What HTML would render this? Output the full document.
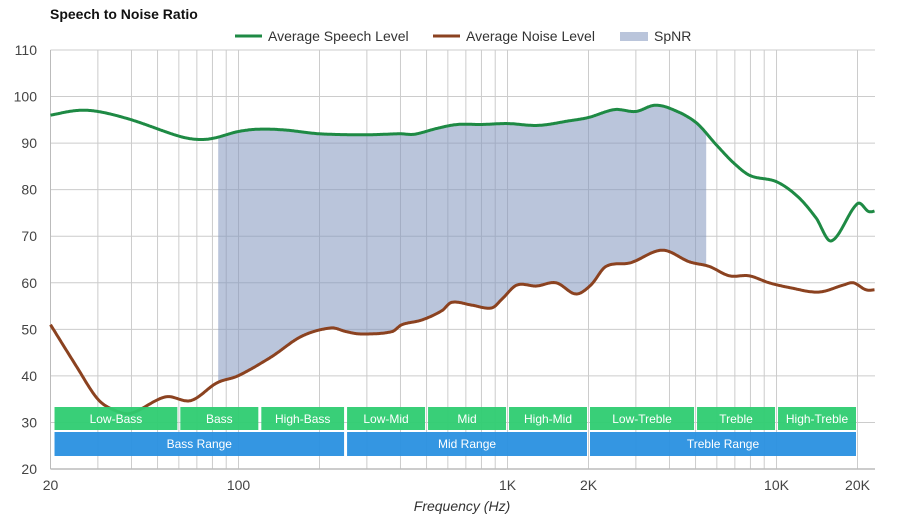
<!DOCTYPE html>
<html><head><meta charset="utf-8"><style>
body{margin:0;background:#fff;font-family:"Liberation Sans",Arial,sans-serif}
svg{display:block}
</style></head><body>
<svg id="c" width="900" height="520" xmlns="http://www.w3.org/2000/svg"></svg>
<script>
const speechFreq=[20,25,30,40,60,70,80,100,120,150,200,300,400,450,550,650,800,1000,1300,1700,2000,2500,3000,3500,4000,5000,6000,7000,8000,10000,12000,14000,16000,20000,22000,23500];
const speechVals=[96,97,96.8,95,91.5,90.8,91,92.5,93,92.8,92,91.8,92,91.9,93.2,94,94,94.2,93.8,94.8,95.5,97.2,96.8,98.1,97.5,94.5,89.5,85.5,83,81.7,78.5,74,69,77,75.3,75.5];
const noiseFreq=[20,25,30,35,40,53.6,66.5,83.1,99.4,131.8,171.6,220.9,251.5,285.4,371.6,405,480,570,620,737,874,954,1083,1281,1516,1794,2040,2321,2866,3758,4747,5630,6673,7909,9375,11113,14330,17700,19300,21500,23500];
const noiseVals=[51,42,35,32.5,32,35.5,34.7,38.5,40,44,48.5,50.3,49.5,49,49.5,51,52,54,55.8,55.2,54.6,56.5,59.5,59.3,60,57.6,59.5,63.5,64.3,67,64.5,63.5,61.5,61.5,60,59,58,59.5,60,58.5,58.5];
const yTicks=[20,30,40,50,60,70,80,90,100,110];
const xTickVals=[20,100,1000,2000,10000,20000];
const xTickLabels=["20","100","1K","2K","10K","20K"];
const gridFreqs=[20,30,40,50,60,70,80,90,100,200,300,400,500,600,700,800,900,1000,2000,3000,4000,5000,6000,7000,8000,9000,10000,20000];
const bandNames=["Low-Bass","Bass","High-Bass","Low-Mid","Mid","High-Mid","Low-Treble","Treble","High-Treble"];
const bandEdges=[20.7,60,120,250,500,1000,2000,5000,10000,20000];
const rangeNames=["Bass Range","Mid Range","Treble Range"];
const rangeEdges=[20.7,250,2000,20000];
const spnrStart=84, spnrEnd=5500;

const L=50.5,R=875,T=50,B=469,DEC=269;
const X=f=>L+DEC*Math.log10(f/20);
const Y=v=>B-(v-20)*(B-T)/90;
const NS="http://www.w3.org/2000/svg";
const svg=document.getElementById('c');
function el(tag,a,p){const e=document.createElementNS(NS,tag);for(const k in a)e.setAttribute(k,a[k]);(p||svg).appendChild(e);return e;}
function txt(s,a){const e=el('text',a);e.textContent=s;return e;}

function interp(fs,vs,f){
  const xs=fs.map(v=>Math.log10(v)),x=Math.log10(f);
  let i=0;while(i<xs.length-2&&x>xs[i+1])i++;
  const n=xs.length;
  const m=k=>{if(k<=0)return (vs[1]-vs[0])/(xs[1]-xs[0]);if(k>=n-1)return (vs[n-1]-vs[n-2])/(xs[n-1]-xs[n-2]);
    return (vs[k+1]-vs[k-1])/(xs[k+1]-xs[k-1]);};
  const h=xs[i+1]-xs[i],u=Math.max(0,Math.min(1,(x-xs[i])/h));
  const h00=2*u*u*u-3*u*u+1,h10=u*u*u-2*u*u+u,h01=-2*u*u*u+3*u*u,h11=u*u*u-u*u;
  return h00*vs[i]+h10*h*m(i)+h01*vs[i+1]+h11*h*m(i+1);
}
function fAt(px){return 20*Math.pow(10,(px-L)/DEC);}

const titleEl=txt("Speech to Noise Ratio",{x:50,y:19,'font-size':14,'font-weight':'bold',fill:'#111'});



const grid=el('g',{});


yTicks.forEach(v=>{el('line',{x1:L,x2:R,y1:Y(v),y2:Y(v),stroke:'#ccc','stroke-width':1},grid);
  const l=txt(String(v),{x:37,y:Y(v)+5,'text-anchor':'end','font-size':14,fill:'#444'});
  
  });
gridFreqs.forEach(f=>el('line',{x1:X(f),x2:X(f),y1:T,y2:B,stroke:'#ccc','stroke-width':1},grid));
el('line',{x1:L,x2:R,y1:B,y2:B,stroke:'#bbb','stroke-width':1.5},grid);
el('line',{x1:L,x2:L,y1:T,y2:B,stroke:'#bbb','stroke-width':1},grid);
xTickVals.forEach((f,i)=>{const l=txt(xTickLabels[i],{x:X(f),y:490,'text-anchor':'middle','font-size':14,fill:'#444'});
  
  });
const xl=txt("Frequency (Hz)",{x:462,y:511,'text-anchor':'middle','font-size':14,'font-style':'italic',fill:'#333'});



let upperPts=[],lowerPts=[];
for(let px=X(spnrStart);px<=X(spnrEnd);px+=1){const f=fAt(px);upperPts.push(px.toFixed(1)+','+Y(interp(speechFreq,speechVals,f)).toFixed(1));lowerPts.unshift(px.toFixed(1)+','+Y(interp(noiseFreq,noiseVals,f)).toFixed(1));}
const area=el('polygon',{points:upperPts.concat(lowerPts).join(' '),fill:'rgba(130,150,190,0.55)'});



function drawLine(fs,vs,color,name){let pts=[];for(let px=L;px<=R;px+=1)pts.push(px.toFixed(1)+','+Y(interp(fs,vs,fAt(px))).toFixed(1));
  const p=el('polyline',{points:pts.join(' '),fill:'none',stroke:color,'stroke-width':3,'stroke-linejoin':'round'});
  
  }
drawLine(noiseFreq,noiseVals,'#8b4220','noise-line');
drawLine(speechFreq,speechVals,'#1e8a44','speech-line');

for(let i=0;i<bandNames.length;i++){const x1=X(bandEdges[i])+(i?1.5:0),x2=X(bandEdges[i+1])-1.5;
  const r=el('rect',{x:x1,y:407,width:x2-x1,height:23,fill:'rgba(46,204,113,0.95)'});
  
  
  const l=txt(bandNames[i],{x:(x1+x2)/2,y:423,'text-anchor':'middle','font-size':12,fill:'#fff'});
  
  }
for(let i=0;i<rangeNames.length;i++){const x1=X(rangeEdges[i])+(i?1.5:0),x2=X(rangeEdges[i+1])-1.5;
  const r=el('rect',{x:x1,y:432,width:x2-x1,height:24,fill:'rgba(41,144,224,0.95)'});
  
  
  const l=txt(rangeNames[i],{x:(x1+x2)/2,y:448,'text-anchor':'middle','font-size':12,fill:'#fff'});
  
  }

const lg=el('g',{});


el('line',{x1:235,x2:262,y1:36,y2:36,stroke:'#1e8a44','stroke-width':3},lg);
el('text',{x:268,y:41,'font-size':14,fill:'#333'},lg).textContent="Average Speech Level";
el('line',{x1:433,x2:460,y1:36,y2:36,stroke:'#8b4220','stroke-width':3},lg);
el('text',{x:466,y:41,'font-size':14,fill:'#333'},lg).textContent="Average Noise Level";
el('rect',{x:620,y:32,width:28,height:9,fill:'rgba(130,150,190,0.55)'},lg);
el('text',{x:654,y:41,'font-size':14,fill:'#333'},lg).textContent="SpNR";
</script>
</body></html>
